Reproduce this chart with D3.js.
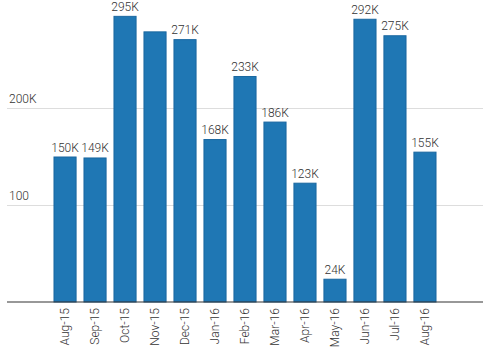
<!DOCTYPE html>
<html><head><meta charset="utf-8">
<script src="https://cdn.jsdelivr.net/npm/d3@7"></script>
<style>
body{margin:0;background:#fff;}
text{font-family:Roboto,"DejaVu Sans",sans-serif;fill:#333;font-weight:300;}
</style></head>
<body>
<svg id="c" width="487" height="358"></svg>
<script>
const categories = ["Aug-15","Sep-15","Oct-15","Nov-15","Dec-15","Jan-16","Feb-16","Mar-16","Apr-16","May-16","Jun-16","Jul-16","Aug-16"];
const values = [150000,149000,295000,279000,271000,168000,233000,186000,123000,24000,292000,275000,155000];
const valueLabels = ["150K","149K","295K",null,"271K","168K","233K","186K","123K","24K","292K","275K","155K"];
const yTicks = [100000,200000];
const yTickLabels = ["100","200K"];

const svg = d3.select("#c");
const x = d3.scaleBand().domain(categories).range([7,483]).paddingInner(0.23).paddingOuter(1.55);
const y = d3.scaleLinear().domain([0,300000]).range([302,11]);

const g = svg.append("g");
yTicks.forEach((t,i)=>{
  g.append("line").attr("x1",7).attr("x2",483).attr("y1",Math.round(y(t))+0.5).attr("y2",Math.round(y(t))+0.5)
   .attr("stroke","#ddd").attr("stroke-width",1);
  g.append("text").attr("x",9).attr("y",y(t)-5).attr("font-size",12).text(yTickLabels[i]);
});

svg.append("g").selectAll("rect").data(values).join("rect")
  .attr("x",(d,i)=>x(categories[i])+0.5)
  .attr("y",d=>y(d)+0.5)
  .attr("width",x.bandwidth()-1)
  .attr("height",d=>y(0)-y(d)-0.5)
  .attr("fill","#1f77b4").attr("stroke","#1a67a0").attr("stroke-width",1);

svg.append("g").selectAll("text").data(values).join("text")
  .attr("x",(d,i)=>x(categories[i])+x.bandwidth()/2)
  .attr("y",d=>y(d)-5)
  .attr("text-anchor","middle").attr("font-size",12)
  .text((d,i)=>valueLabels[i]);

const xa = svg.append("g").attr("transform","translate(0,302)")
  .call(d3.axisBottom(x).tickSize(0).tickPadding(0));
xa.select(".domain").attr("d","M7,0H483").attr("stroke","#333").attr("stroke-width",1.2);
xa.selectAll("text").attr("font-size",12).attr("fill","#333")
  .attr("font-family",'Roboto,"DejaVu Sans",sans-serif').attr("font-weight",300)
  .attr("transform","rotate(-90)").attr("text-anchor","end")
  .attr("x",-6).attr("y",0).attr("dy","0.35em");
</script>
</body></html>
